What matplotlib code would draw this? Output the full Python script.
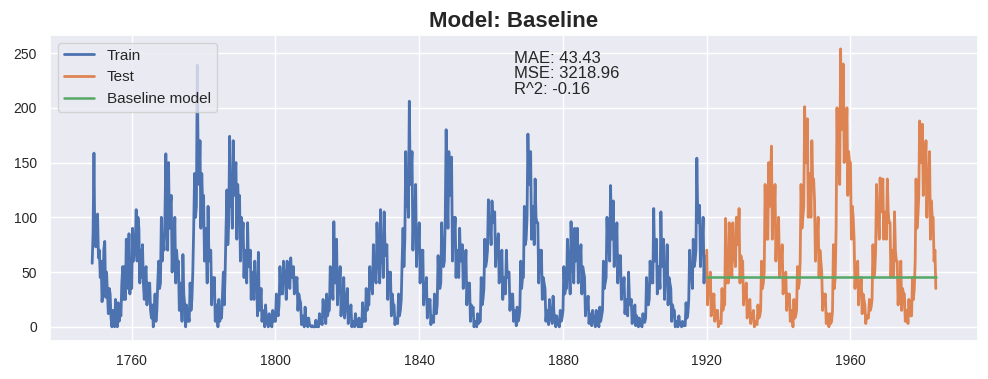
import pandas as pd
import matplotlib
matplotlib.use('Agg')
import matplotlib.pyplot as plt
import matplotlib.dates as mdates
import seaborn as sns

# 흑점 수, 분기 간격 (그림에서 읽은 값, 한 줄 = 5년)
train_start = '1749-01-01'
train_vals = [
    58, 85, 158.6, 76, 73, 100, 103, 63, 70, 45, 60, 23, 35, 71, 78, 27, 50, 30, 12, 35,
    30, 8, 0, 15, 5, 0, 25, 10, 0, 22, 5, 14, 10, 40, 55, 25, 55, 25, 80, 35,
    50, 85, 30, 60, 35, 90, 60, 70, 75, 107, 60, 100, 90, 40, 70, 45, 75, 40, 25, 50,
    55, 20, 40, 30, 40, 15, 8, 20, 0, 15, 30, 5, 15, 40, 60, 35, 40, 100, 60, 80,
    70, 100, 158, 95, 70, 150, 90, 110, 120, 50, 90, 70, 100, 40, 70, 55, 60, 15, 40, 25,
    5, 66, 30, 20, 0, 20, 5, 10, 5, 40, 15, 25, 50, 90, 140, 100, 110, 238.9, 150, 130,
    170, 90, 140, 110, 120, 60, 90, 75, 40, 110, 60, 70, 70, 20, 45, 30, 45, 5, 20, 15,
    0, 25, 5, 10, 8, 30, 50, 20, 50, 90, 125, 75, 95, 174, 110, 140, 90, 170, 120, 140,
    150, 80, 130, 110, 120, 60, 100, 80, 95, 45, 70, 60, 40, 95, 55, 60, 70, 25, 50, 40,
    25, 60, 35, 45, 10, 68, 15, 20, 35, 5, 15, 10, 0, 20, 5, 3, 0, 12, 3, 2,
    0, 15, 5, 8, 5, 30, 15, 10, 20, 55, 30, 35, 30, 60, 45, 50, 25, 60, 40, 45,
    35, 63, 45, 50, 55, 30, 45, 40, 45, 15, 30, 25, 22, 2, 10, 8, 0, 18, 5, 8,
    0, 8, 2, 1, 0, 1, 0, 0, 0, 6, 0, 1, 0, 12, 3, 5, 2, 25, 10, 12,
    3, 30, 10, 15, 15, 55, 35, 40, 25, 96, 45, 40, 80, 20, 45, 35, 55, 10, 30, 25,
    45, 8, 20, 25, 35, 3, 15, 10, 20, 0, 5, 3, 0, 12, 3, 2, 0, 8, 0, 1,
    0, 22, 5, 10, 5, 35, 15, 20, 20, 55, 35, 40, 30, 75, 50, 45, 40, 95, 65, 60,
    40, 107, 60, 70, 45, 105, 70, 65, 75, 25, 50, 40, 50, 10, 30, 20, 20, 2, 8, 5,
    3, 30, 10, 15, 25, 60, 90, 55, 80, 160, 110, 130, 100, 206, 130, 140, 160, 70, 110, 90,
    130, 55, 90, 70, 95, 40, 70, 55, 70, 20, 35, 30, 45, 8, 25, 20, 25, 2, 10, 8,
    4, 30, 15, 12, 20, 65, 40, 35, 40, 95, 60, 55, 60, 100, 180, 120, 90, 160, 120, 130,
    155, 60, 100, 85, 100, 45, 70, 60, 45, 90, 60, 65, 75, 35, 55, 50, 70, 20, 40, 30,
    40, 5, 20, 15, 18, 0, 5, 4, 0, 12, 3, 5, 5, 45, 20, 25, 35, 80, 55, 60,
    70, 116, 90, 95, 75, 115, 95, 100, 105, 55, 80, 70, 85, 40, 60, 55, 70, 25, 45, 40,
    30, 70, 45, 50, 50, 15, 30, 25, 30, 5, 15, 12, 1, 18, 5, 8, 15, 60, 35, 45,
    45, 110, 75, 80, 100, 176, 130, 140, 160, 80, 110, 100, 75, 135, 100, 95, 95, 40, 70, 60,
    70, 25, 45, 40, 35, 5, 15, 12, 2, 25, 10, 8, 3, 28, 12, 10, 0, 10, 2, 3,
    0, 15, 5, 8, 15, 55, 30, 35, 35, 80, 55, 50, 30, 96, 55, 60, 40, 90, 60, 65,
    90, 40, 65, 60, 75, 30, 55, 50, 45, 10, 25, 20, 28, 3, 12, 10, 1, 15, 6, 5,
    0, 15, 5, 5, 0, 18, 5, 10, 15, 60, 35, 40, 45, 100, 70, 75, 60, 129, 80, 90,
    115, 55, 80, 70, 95, 40, 65, 60, 65, 25, 40, 35, 45, 12, 25, 22, 10, 50, 25, 20,
    25, 3, 12, 10, 20, 1, 10, 7, 0, 8, 2, 1, 0, 12, 5, 4, 8, 45, 25, 20,
    25, 60, 40, 45, 40, 108, 60, 65, 80, 30, 55, 50, 35, 105, 60, 55, 80, 25, 50, 45,
    75, 20, 45, 40, 35, 5, 20, 15, 15, 0, 5, 3, 0, 10, 3, 2, 0, 5, 1, 1,
    1, 22, 8, 12, 25, 70, 45, 50, 35, 80, 55, 60, 70, 154, 100, 95, 111, 55, 80, 75,
    100, 40, 65, 55,
]

test_start = '1920-01-01'
test_vals = [
    70, 20, 40, 30, 50, 10, 30, 20, 30, 5, 15, 10, 15, 0, 5, 3, 3, 35, 15, 20,
    20, 99, 40, 55, 40, 95, 65, 60, 45, 95, 70, 65, 55, 100, 80, 75, 108, 40, 65, 60,
    60, 20, 35, 30, 40, 8, 20, 18, 25, 3, 12, 8, 15, 0, 5, 3, 2, 20, 8, 10,
    15, 60, 35, 40, 50, 130, 80, 85, 80, 150, 110, 120, 165, 80, 110, 100, 130, 60, 90, 80,
    100, 45, 70, 60, 75, 30, 45, 40, 50, 15, 30, 25, 30, 5, 15, 12, 0, 25, 8, 10,
    15, 55, 35, 40, 60, 130, 90, 100, 110, 201, 150, 160, 190, 100, 140, 130, 100, 170, 130, 135,
    115, 60, 85, 80, 100, 45, 70, 60, 50, 15, 30, 25, 30, 3, 12, 10, 0, 12, 3, 5,
    15, 75, 35, 45, 90, 200, 140, 150, 130, 253.8, 180, 200, 240, 150, 190, 170, 200, 120, 160, 150,
    150, 80, 110, 100, 80, 35, 55, 45, 60, 20, 40, 35, 45, 12, 30, 25, 20, 3, 10, 8,
    8, 25, 15, 18, 25, 75, 45, 50, 70, 130, 95, 100, 80, 136, 105, 110, 135, 80, 105, 100,
    80, 135, 105, 95, 95, 45, 70, 65, 45, 105, 70, 60, 60, 20, 40, 35, 60, 15, 35, 30,
    30, 5, 15, 12, 3, 25, 12, 10, 10, 45, 25, 35, 60, 135, 90, 100, 120, 188, 150, 160,
    185, 120, 150, 145, 170, 100, 140, 130, 160, 80, 115, 100, 100, 60, 70, 35,
]

baseline_value = 45.6
metrics = {'MAE': 43.43, 'MSE': 3218.96, 'R^2': -0.16}


def main():
    sns.set_theme()
    plt.rcParams['font.family'] = ['Liberation Sans', 'DejaVu Sans']

    train = pd.Series(train_vals,
                      index=pd.date_range(train_start, periods=len(train_vals), freq='3MS'))
    test = pd.Series(test_vals,
                     index=pd.date_range(test_start, periods=len(test_vals), freq='3MS'))
    pred = pd.Series([baseline_value] * len(test), index=test.index)

    fig = plt.figure(figsize=(9.88, 3.79), dpi=100)
    ax = fig.add_axes([0.0506, 0.101, 0.9393, 0.8067])

    ax.plot(train.index, train.values, label='Train', lw=2.0)
    ax.plot(test.index, test.values, label='Test', lw=2.0)
    ax.plot(pred.index, pred.values, label='Baseline model', lw=1.8)

    txt = '\n'.join(f'{k}: {v:.2f}' for k, v in metrics.items())
    ax.text(0.5, 0.948, txt, transform=ax.transAxes, va='top', ha='left',
            fontsize=12, linespacing=1.05)

    ax.xaxis.set_major_locator(mdates.YearLocator(40))
    ax.xaxis.set_major_formatter(mdates.DateFormatter('%Y'))
    ax.tick_params(labelsize=10)
    ax.set_title('Model: Baseline', fontsize=16, fontweight='bold')
    ax.legend(loc='upper left', fontsize=11)

    fig.savefig('out.png', dpi=100)


if __name__ == '__main__':
    main()
